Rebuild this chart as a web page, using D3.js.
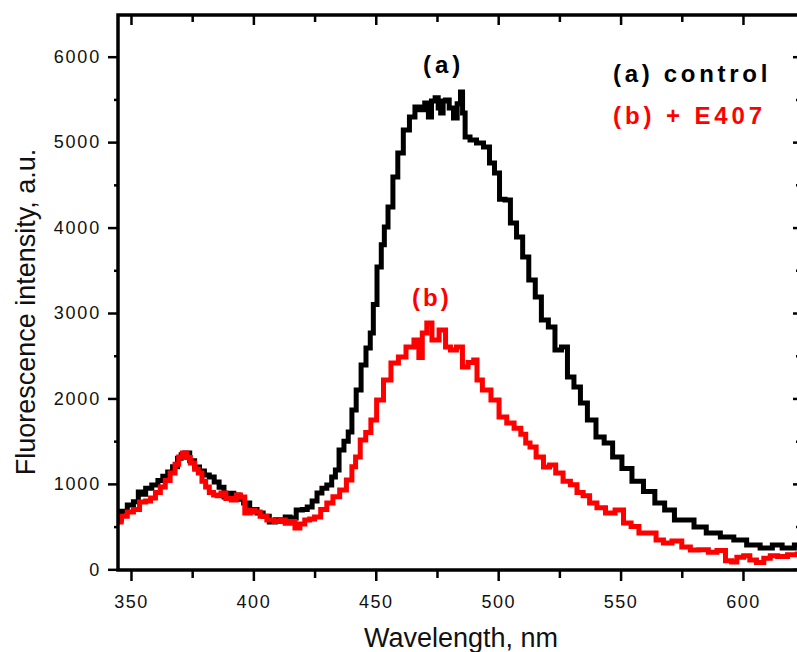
<!DOCTYPE html>
<html>
<head>
<meta charset="utf-8">
<script src="https://cdn.jsdelivr.net/npm/d3@7"></script>
<style>
  html, body { margin: 0; padding: 0; background: #fff; }
  svg { display: block; font-family: "Liberation Sans", Arial, sans-serif; }
</style>
</head>
<body>
<div id="content"></div>
<script>
// spectra: wavelength (nm) / intensity (a.u.)
const waveA = [345, 347, 350, 352, 354, 355, 357, 360, 362, 364, 366, 368, 370, 371, 373, 375, 377, 379, 381, 383,
  385, 387, 389, 391, 393, 395, 397, 400, 403, 405, 408, 410, 412, 414, 416, 419, 421, 423, 425, 427,
  429, 431, 433, 434, 436, 438, 439.5, 441, 443, 445, 447, 448.5, 449.5, 451.5, 453, 454, 456, 458, 460, 462.5,
  465, 467, 469, 471, 472, 473.5, 475, 476, 477, 478, 479, 481, 482.5, 484, 485.2, 485.7, 487.3, 489.7, 492.6, 495.4,
  497.5, 499.5, 501.6, 504, 506, 509, 511, 514, 516.3, 519, 522, 524.4, 527.3, 529.3, 532.6, 534.6, 538.3, 541.6, 545, 548.5,
  552.6, 556.7, 562, 566, 570, 574, 578, 582, 588, 593.5, 599, 604, 610, 614, 618, 624];
const controlA = [577, 680, 754, 790, 905, 880, 950, 987, 1040, 1090, 1139, 1200, 1300, 1340, 1362, 1270, 1198, 1150, 1104, 1080,
  1022, 960, 847, 890, 870, 820, 776, 700, 659, 620, 554, 580, 560, 612, 600, 694, 700, 729, 800, 893,
  950, 987, 1080, 1162, 1397, 1500, 1607, 1865, 2099, 2392, 2591, 2767, 3100, 3539, 3800, 4007, 4241, 4593, 4874, 5143,
  5295, 5412, 5380, 5459, 5295, 5480, 5518, 5400, 5342, 5480, 5494, 5400, 5283, 5450, 5588, 5342, 5061, 5026, 4990, 4944,
  4757, 4640, 4330, 4323, 4054, 3890, 3656, 3387, 3188, 2918, 2836, 2567, 2603, 2252, 2135, 1948, 1749, 1550, 1479, 1315,
  1180, 1030, 910, 776, 694, 577, 577, 495, 425, 378, 343, 285, 250, 285, 250, 285];

const waveB = [345, 347, 350, 352, 355, 357, 359, 361, 363, 365, 367, 369, 370, 372, 373.5, 375, 377, 378, 380, 381,
  383, 384.5, 386, 387.5, 390, 392, 394, 395.5, 397.5, 400, 401.5, 404, 407, 410, 412, 414, 416, 418, 420, 422,
  424, 426, 429, 431, 434, 436.5, 439.5, 441, 442.5, 444.8, 447, 449, 451.7, 454.6, 457.8, 460.7, 464, 467.2, 468, 470,
  471.7, 474.2, 477.5, 479.5, 481.5, 484.4, 486.4, 489, 491, 491.7, 495.4, 498.7, 502, 505, 508, 510.5, 512, 514, 517, 520,
  522, 525, 528, 531, 533.4, 536, 538.7, 542, 545.7, 549.8, 552.6, 556, 559, 563, 566, 569, 573, 577, 580, 584,
  587.7, 591, 594.7, 596, 599, 601.6, 604, 607, 610, 612.3, 616, 620.4, 624];
const e407B = [554, 620, 671, 700, 788, 800, 835, 900, 964, 1040, 1127, 1230, 1315, 1362, 1310, 1244, 1170, 1127, 1030, 964,
  900, 870, 860, 894, 830, 811, 870, 847, 659, 690, 671, 620, 577, 560, 577, 540, 560, 483, 530, 577,
  590, 612, 700, 776, 850, 929, 1046, 1200, 1315, 1514, 1600, 1749, 1983, 2217, 2416, 2486, 2603, 2685, 2480, 2767,
  2884, 2685, 2802, 2603, 2567, 2603, 2368, 2420, 2451, 2217, 2100, 1983, 1783, 1713, 1650, 1580, 1479, 1432, 1315, 1198,
  1220, 1127, 1030, 990, 900, 860, 776, 720, 659, 694, 542, 500, 425, 425, 343, 308, 330, 261, 226, 230,
  200, 220, 100, 85, 140, 160, 110, 80, 130, 160, 150, 170, 180];

const xMajor = [350, 400, 450, 500, 550, 600];
const xMinor = [375, 425, 475, 525, 575];
const yMajor = [0, 1000, 2000, 3000, 4000, 5000, 6000];
const yMinor = [500, 1500, 2500, 3500, 4500, 5500];

const W = 797, H = 652;
const L = 118, R = 801, T = 15, B = 570;

const x = d3.scaleLinear().domain([344.7, 623.7]).range([L, R]);
const y = d3.scaleLinear().domain([-8, 6488]).range([B, T]);

const svg = d3.select("#content").append("svg")
  .attr("width", W).attr("height", H);

svg.append("defs").append("clipPath").attr("id", "clip")
  .append("rect").attr("x", L).attr("y", T).attr("width", R - L).attr("height", B - T);

// the instrument trace is drawn as a stair line, like the original plot
const line = d3.line().curve(d3.curveStep).x(d => x(d[0])).y(d => y(d[1]));

const series = [
  { w: waveA, v: controlA, color: "#000000" },
  { w: waveB, v: e407B, color: "#ff0000" }
];
svg.append("g").attr("clip-path", "url(#clip)")
  .selectAll("path").data(series).join("path")
  .attr("d", s => line(s.w.map((w, i) => [w, s.v[i]])))
  .attr("fill", "none")
  .attr("stroke", s => s.color)
  .attr("stroke-width", 5)
  .attr("stroke-linejoin", "miter");

// axes
function styleAxis(g, width) {
  g.select(".domain").remove();
  g.selectAll(".tick line").attr("stroke", "#000").attr("stroke-width", width);
}
const fmt = d3.format("d");

// bottom
svg.append("g").attr("transform", `translate(0,${B})`)
  .call(d3.axisBottom(x).tickValues(xMinor).tickSize(8).tickFormat(""))
  .call(g => styleAxis(g, 2.5));
svg.append("g").attr("transform", `translate(0,${B})`)
  .call(d3.axisBottom(x).tickValues(xMajor).tickSize(11).tickPadding(14).tickFormat(fmt))
  .call(g => styleAxis(g, 2.5))
  .call(g => g.selectAll("text")
    .attr("font-size", 18).attr("fill", "#111").attr("letter-spacing", "1.5px")
    .attr("font-family", "Liberation Sans, Arial, sans-serif"));

// top (inward)
svg.append("g").attr("transform", `translate(0,${T})`)
  .call(d3.axisTop(x).tickValues(xMinor).tickSize(-7).tickFormat(""))
  .call(g => styleAxis(g, 2.5));
svg.append("g").attr("transform", `translate(0,${T})`)
  .call(d3.axisTop(x).tickValues(xMajor).tickSize(-10).tickFormat(""))
  .call(g => styleAxis(g, 2.5));

// left
svg.append("g").attr("transform", `translate(${L},0)`)
  .call(d3.axisLeft(y).tickValues(yMinor).tickSize(4).tickFormat(""))
  .call(g => styleAxis(g, 2.5));
svg.append("g").attr("transform", `translate(${L},0)`)
  .call(d3.axisLeft(y).tickValues(yMajor).tickSize(10).tickPadding(7).tickFormat(fmt))
  .call(g => styleAxis(g, 2.5))
  .call(g => g.selectAll("text")
    .attr("font-size", 18).attr("fill", "#111").attr("letter-spacing", "1.8px")
    .attr("font-family", "Liberation Sans, Arial, sans-serif"));

// right (inward)
svg.append("g").attr("transform", `translate(${R},0)`)
  .call(d3.axisRight(y).tickValues(yMinor).tickSize(-5).tickFormat(""))
  .call(g => styleAxis(g, 2.5));
svg.append("g").attr("transform", `translate(${R},0)`)
  .call(d3.axisRight(y).tickValues(yMajor).tickSize(-8).tickFormat(""))
  .call(g => styleAxis(g, 2.5));

// frame
svg.append("path")
  .attr("d", `M${L},${B}V${T}H${R}V${B}Z`)
  .attr("fill", "none").attr("stroke", "#000").attr("stroke-width", 3.5)
  .attr("stroke-linejoin", "miter");

// titles
svg.append("text")
  .attr("x", 461).attr("y", 647)
  .attr("text-anchor", "middle").attr("font-size", 27).attr("fill", "#111")
  .text("Wavelength, nm");
svg.append("text")
  .attr("transform", "translate(35,312) rotate(-90)")
  .attr("text-anchor", "middle").attr("font-size", 27).attr("fill", "#111")
  .text("Fluorescence intensity, a.u.");

// annotations and legend
const notes = [
  { t: "(a)", x: 423, y: 73, c: "#000000", ls: 4 },
  { t: "(b)", x: 412, y: 306, c: "#ff0000", ls: 3 },
  { t: "(a) control", x: 613, y: 82, c: "#000000", ls: 3.7 },
  { t: "(b) + E407", x: 613, y: 124, c: "#ff0000", ls: 3.9 }
];
svg.selectAll(".note").data(notes).join("text")
  .attr("class", "note")
  .attr("x", d => d.x).attr("y", d => d.y)
  .attr("font-size", 24).attr("font-weight", "bold")
  .attr("letter-spacing", d => d.ls + "px")
  .attr("fill", d => d.c)
  .text(d => d.t);
</script>
</body>
</html>
